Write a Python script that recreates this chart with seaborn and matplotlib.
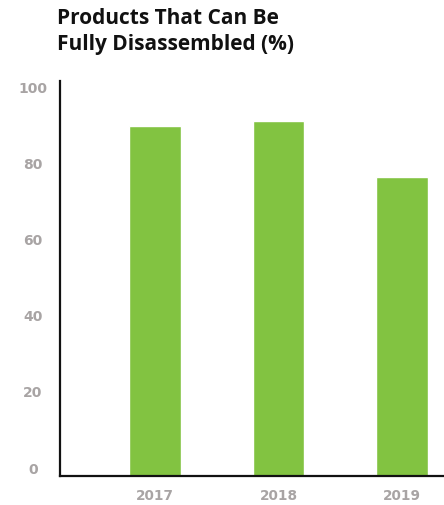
import matplotlib
matplotlib.use("Agg")
import matplotlib.pyplot as plt
import matplotlib.transforms as mtransforms
import seaborn as sns
import pandas as pd

years = ["2017", "2018", "2019"]
pct_disassembled = [92.0, 93.4, 78.7]
y_ticks = [0, 20, 40, 60, 80, 100]

sns.set_theme(style="white")
plt.rcParams["font.family"] = ["Open Sans", "DejaVu Sans"]

W, H = 444, 505
fig = plt.figure(figsize=(W / 100, H / 100), dpi=100)
ax = fig.add_axes([60 / W, (H - 476) / H, (W - 60) / W, (476 - 81) / H])

df = pd.DataFrame({"year": years, "pct": pct_disassembled})
sns.barplot(data=df, x="year", y="pct", color="#82C341", saturation=1,
            width=0.42, ax=ax)

ax.set_xlim(-0.77, 2.34)
ax.set_ylim(0, 103.9)
ax.set_xlabel("")
ax.set_ylabel("")

for side in ("top", "right"):
    ax.spines[side].set_visible(False)
for side in ("left", "bottom"):
    ax.spines[side].set_color("#111111")
    ax.spines[side].set_linewidth(1.6)

grey = "#a8a4a4"
ax.set_yticks(y_ticks)
ax.set_yticklabels([str(t) for t in y_ticks])
ax.tick_params(axis="y", length=0, pad=19.5, labelsize=10, colors=grey)
ax.tick_params(axis="x", length=0, pad=9, labelsize=9.8, colors=grey)
lift = mtransforms.ScaledTranslation(0, 0.08, fig.dpi_scale_trans)
for lab in ax.get_yticklabels():
    lab.set_fontweight("bold")
    lab.set_family("DejaVu Sans")
    lab.set_horizontalalignment("center")
    lab.set_transform(lab.get_transform() + lift)
for lab in ax.get_xticklabels():
    lab.set_fontweight("bold")
    lab.set_family("DejaVu Sans")

fig.text(57 / W, 1 - 8 / H, "Products That Can Be\nFully Disassembled (%)",
         ha="left", va="top", fontsize=15, fontweight="bold",
         color="#111111", linespacing=1.3)

fig.savefig("out.png", dpi=100)
